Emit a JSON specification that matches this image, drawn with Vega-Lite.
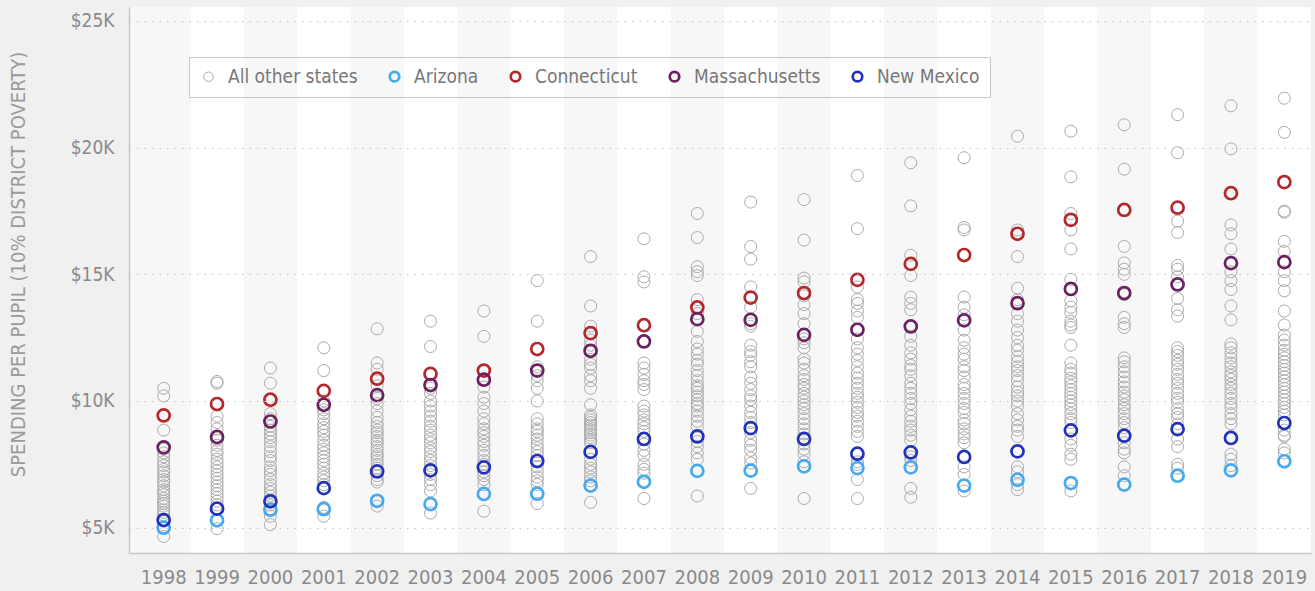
{
"$schema":"https://vega.github.io/schema/vega-lite/v6.json",
"width":1182,"height":546,
"autosize":{"type":"none"},
"padding":{"left":129,"top":7,"right":4,"bottom":38},
"background":"#f0f0f0",
"config":{"view":{"fill":"#f7f7f7","stroke":null},"font":"Liberation Sans Narrow, DejaVu Sans Condensed, sans-serif"},
"datasets":{
"bands":[{"year":1999},{"year":2001},{"year":2003},{"year":2005},{"year":2007},{"year":2009},{"year":2011},{"year":2013},{"year":2015},{"year":2017},{"year":2019}],
"pts":[
{"year":1998,"state":"All other states","usd":10500},{"year":1998,"state":"All other states","usd":10200},{"year":1998,"state":"All other states","usd":8850},{"year":1998,"state":"All other states","usd":8100},{"year":1998,"state":"All other states","usd":7950},{"year":1998,"state":"All other states","usd":7800},{"year":1998,"state":"All other states","usd":7600},{"year":1998,"state":"All other states","usd":7450},{"year":1998,"state":"All other states","usd":7300},{"year":1998,"state":"All other states","usd":7200},{"year":1998,"state":"All other states","usd":7050},{"year":1998,"state":"All other states","usd":6900},{"year":1998,"state":"All other states","usd":6800},{"year":1998,"state":"All other states","usd":6650},{"year":1998,"state":"All other states","usd":6500},{"year":1998,"state":"All other states","usd":6400},{"year":1998,"state":"All other states","usd":6300},{"year":1998,"state":"All other states","usd":6150},{"year":1998,"state":"All other states","usd":6050},{"year":1998,"state":"All other states","usd":5950},{"year":1998,"state":"All other states","usd":5850},{"year":1998,"state":"All other states","usd":5700},{"year":1998,"state":"All other states","usd":5600},{"year":1998,"state":"All other states","usd":5500},{"year":1998,"state":"All other states","usd":4650},
{"year":1999,"state":"All other states","usd":10770},{"year":1999,"state":"All other states","usd":10700},{"year":1999,"state":"All other states","usd":9400},{"year":1999,"state":"All other states","usd":9150},{"year":1999,"state":"All other states","usd":8900},{"year":1999,"state":"All other states","usd":8450},{"year":1999,"state":"All other states","usd":8250},{"year":1999,"state":"All other states","usd":8050},{"year":1999,"state":"All other states","usd":7900},{"year":1999,"state":"All other states","usd":7700},{"year":1999,"state":"All other states","usd":7550},{"year":1999,"state":"All other states","usd":7400},{"year":1999,"state":"All other states","usd":7250},{"year":1999,"state":"All other states","usd":7100},{"year":1999,"state":"All other states","usd":6950},{"year":1999,"state":"All other states","usd":6800},{"year":1999,"state":"All other states","usd":6650},{"year":1999,"state":"All other states","usd":6500},{"year":1999,"state":"All other states","usd":6350},{"year":1999,"state":"All other states","usd":6200},{"year":1999,"state":"All other states","usd":6050},{"year":1999,"state":"All other states","usd":5900},{"year":1999,"state":"All other states","usd":4960},
{"year":2000,"state":"All other states","usd":11300},{"year":2000,"state":"All other states","usd":10700},{"year":2000,"state":"All other states","usd":9500},{"year":2000,"state":"All other states","usd":9300},{"year":2000,"state":"All other states","usd":9000},{"year":2000,"state":"All other states","usd":8850},{"year":2000,"state":"All other states","usd":8700},{"year":2000,"state":"All other states","usd":8550},{"year":2000,"state":"All other states","usd":8400},{"year":2000,"state":"All other states","usd":8200},{"year":2000,"state":"All other states","usd":8000},{"year":2000,"state":"All other states","usd":7800},{"year":2000,"state":"All other states","usd":7650},{"year":2000,"state":"All other states","usd":7400},{"year":2000,"state":"All other states","usd":7250},{"year":2000,"state":"All other states","usd":7100},{"year":2000,"state":"All other states","usd":6900},{"year":2000,"state":"All other states","usd":6700},{"year":2000,"state":"All other states","usd":6550},{"year":2000,"state":"All other states","usd":6400},{"year":2000,"state":"All other states","usd":6250},{"year":2000,"state":"All other states","usd":6100},{"year":2000,"state":"All other states","usd":5900},{"year":2000,"state":"All other states","usd":5450},{"year":2000,"state":"All other states","usd":5120},
{"year":2001,"state":"All other states","usd":12100},{"year":2001,"state":"All other states","usd":11200},{"year":2001,"state":"All other states","usd":10000},{"year":2001,"state":"All other states","usd":9650},{"year":2001,"state":"All other states","usd":9500},{"year":2001,"state":"All other states","usd":9300},{"year":2001,"state":"All other states","usd":9100},{"year":2001,"state":"All other states","usd":8950},{"year":2001,"state":"All other states","usd":8800},{"year":2001,"state":"All other states","usd":8650},{"year":2001,"state":"All other states","usd":8450},{"year":2001,"state":"All other states","usd":8250},{"year":2001,"state":"All other states","usd":8100},{"year":2001,"state":"All other states","usd":7950},{"year":2001,"state":"All other states","usd":7800},{"year":2001,"state":"All other states","usd":7650},{"year":2001,"state":"All other states","usd":7500},{"year":2001,"state":"All other states","usd":7350},{"year":2001,"state":"All other states","usd":7150},{"year":2001,"state":"All other states","usd":7000},{"year":2001,"state":"All other states","usd":6850},{"year":2001,"state":"All other states","usd":6700},{"year":2001,"state":"All other states","usd":5800},{"year":2001,"state":"All other states","usd":5450},
{"year":2002,"state":"All other states","usd":12850},{"year":2002,"state":"All other states","usd":11500},{"year":2002,"state":"All other states","usd":11250},{"year":2002,"state":"All other states","usd":10600},{"year":2002,"state":"All other states","usd":10100},{"year":2002,"state":"All other states","usd":9900},{"year":2002,"state":"All other states","usd":9600},{"year":2002,"state":"All other states","usd":9350},{"year":2002,"state":"All other states","usd":9150},{"year":2002,"state":"All other states","usd":9000},{"year":2002,"state":"All other states","usd":8850},{"year":2002,"state":"All other states","usd":8750},{"year":2002,"state":"All other states","usd":8600},{"year":2002,"state":"All other states","usd":8450},{"year":2002,"state":"All other states","usd":8350},{"year":2002,"state":"All other states","usd":8200},{"year":2002,"state":"All other states","usd":8050},{"year":2002,"state":"All other states","usd":7900},{"year":2002,"state":"All other states","usd":7800},{"year":2002,"state":"All other states","usd":7650},{"year":2002,"state":"All other states","usd":7500},{"year":2002,"state":"All other states","usd":7350},{"year":2002,"state":"All other states","usd":7050},{"year":2002,"state":"All other states","usd":6900},{"year":2002,"state":"All other states","usd":6800},{"year":2002,"state":"All other states","usd":5850},
{"year":2003,"state":"All other states","usd":13150},{"year":2003,"state":"All other states","usd":12150},{"year":2003,"state":"All other states","usd":10500},{"year":2003,"state":"All other states","usd":10300},{"year":2003,"state":"All other states","usd":10000},{"year":2003,"state":"All other states","usd":9800},{"year":2003,"state":"All other states","usd":9600},{"year":2003,"state":"All other states","usd":9400},{"year":2003,"state":"All other states","usd":9200},{"year":2003,"state":"All other states","usd":9000},{"year":2003,"state":"All other states","usd":8850},{"year":2003,"state":"All other states","usd":8650},{"year":2003,"state":"All other states","usd":8500},{"year":2003,"state":"All other states","usd":8350},{"year":2003,"state":"All other states","usd":8150},{"year":2003,"state":"All other states","usd":8000},{"year":2003,"state":"All other states","usd":7800},{"year":2003,"state":"All other states","usd":7650},{"year":2003,"state":"All other states","usd":7450},{"year":2003,"state":"All other states","usd":7100},{"year":2003,"state":"All other states","usd":6900},{"year":2003,"state":"All other states","usd":6700},{"year":2003,"state":"All other states","usd":6450},{"year":2003,"state":"All other states","usd":5580},
{"year":2004,"state":"All other states","usd":13550},{"year":2004,"state":"All other states","usd":12550},{"year":2004,"state":"All other states","usd":10850},{"year":2004,"state":"All other states","usd":10550},{"year":2004,"state":"All other states","usd":10150},{"year":2004,"state":"All other states","usd":9900},{"year":2004,"state":"All other states","usd":9600},{"year":2004,"state":"All other states","usd":9300},{"year":2004,"state":"All other states","usd":9100},{"year":2004,"state":"All other states","usd":8900},{"year":2004,"state":"All other states","usd":8750},{"year":2004,"state":"All other states","usd":8600},{"year":2004,"state":"All other states","usd":8400},{"year":2004,"state":"All other states","usd":8250},{"year":2004,"state":"All other states","usd":8050},{"year":2004,"state":"All other states","usd":7850},{"year":2004,"state":"All other states","usd":7650},{"year":2004,"state":"All other states","usd":7500},{"year":2004,"state":"All other states","usd":7200},{"year":2004,"state":"All other states","usd":7050},{"year":2004,"state":"All other states","usd":6900},{"year":2004,"state":"All other states","usd":6700},{"year":2004,"state":"All other states","usd":5650},
{"year":2005,"state":"All other states","usd":14750},{"year":2005,"state":"All other states","usd":13150},{"year":2005,"state":"All other states","usd":11350},{"year":2005,"state":"All other states","usd":11000},{"year":2005,"state":"All other states","usd":10800},{"year":2005,"state":"All other states","usd":10500},{"year":2005,"state":"All other states","usd":10000},{"year":2005,"state":"All other states","usd":9300},{"year":2005,"state":"All other states","usd":9100},{"year":2005,"state":"All other states","usd":8900},{"year":2005,"state":"All other states","usd":8800},{"year":2005,"state":"All other states","usd":8650},{"year":2005,"state":"All other states","usd":8500},{"year":2005,"state":"All other states","usd":8300},{"year":2005,"state":"All other states","usd":8150},{"year":2005,"state":"All other states","usd":8000},{"year":2005,"state":"All other states","usd":7850},{"year":2005,"state":"All other states","usd":7400},{"year":2005,"state":"All other states","usd":7200},{"year":2005,"state":"All other states","usd":7000},{"year":2005,"state":"All other states","usd":6850},{"year":2005,"state":"All other states","usd":6700},{"year":2005,"state":"All other states","usd":5950},
{"year":2006,"state":"All other states","usd":15700},{"year":2006,"state":"All other states","usd":13750},{"year":2006,"state":"All other states","usd":12950},{"year":2006,"state":"All other states","usd":12400},{"year":2006,"state":"All other states","usd":12200},{"year":2006,"state":"All other states","usd":11650},{"year":2006,"state":"All other states","usd":11450},{"year":2006,"state":"All other states","usd":11300},{"year":2006,"state":"All other states","usd":11000},{"year":2006,"state":"All other states","usd":10800},{"year":2006,"state":"All other states","usd":10500},{"year":2006,"state":"All other states","usd":9850},{"year":2006,"state":"All other states","usd":9450},{"year":2006,"state":"All other states","usd":9350},{"year":2006,"state":"All other states","usd":9250},{"year":2006,"state":"All other states","usd":9150},{"year":2006,"state":"All other states","usd":9050},{"year":2006,"state":"All other states","usd":8950},{"year":2006,"state":"All other states","usd":8850},{"year":2006,"state":"All other states","usd":8750},{"year":2006,"state":"All other states","usd":8650},{"year":2006,"state":"All other states","usd":8550},{"year":2006,"state":"All other states","usd":8450},{"year":2006,"state":"All other states","usd":8350},{"year":2006,"state":"All other states","usd":7700},{"year":2006,"state":"All other states","usd":7500},{"year":2006,"state":"All other states","usd":7350},{"year":2006,"state":"All other states","usd":7200},{"year":2006,"state":"All other states","usd":7000},{"year":2006,"state":"All other states","usd":6850},{"year":2006,"state":"All other states","usd":6000},
{"year":2007,"state":"All other states","usd":16400},{"year":2007,"state":"All other states","usd":14900},{"year":2007,"state":"All other states","usd":14700},{"year":2007,"state":"All other states","usd":11500},{"year":2007,"state":"All other states","usd":11300},{"year":2007,"state":"All other states","usd":11050},{"year":2007,"state":"All other states","usd":10800},{"year":2007,"state":"All other states","usd":10650},{"year":2007,"state":"All other states","usd":10450},{"year":2007,"state":"All other states","usd":9800},{"year":2007,"state":"All other states","usd":9600},{"year":2007,"state":"All other states","usd":9450},{"year":2007,"state":"All other states","usd":9250},{"year":2007,"state":"All other states","usd":9100},{"year":2007,"state":"All other states","usd":8950},{"year":2007,"state":"All other states","usd":8800},{"year":2007,"state":"All other states","usd":8300},{"year":2007,"state":"All other states","usd":8050},{"year":2007,"state":"All other states","usd":7850},{"year":2007,"state":"All other states","usd":7500},{"year":2007,"state":"All other states","usd":7300},{"year":2007,"state":"All other states","usd":7150},{"year":2007,"state":"All other states","usd":6150},
{"year":2008,"state":"All other states","usd":17400},{"year":2008,"state":"All other states","usd":16450},{"year":2008,"state":"All other states","usd":15300},{"year":2008,"state":"All other states","usd":15100},{"year":2008,"state":"All other states","usd":14950},{"year":2008,"state":"All other states","usd":14000},{"year":2008,"state":"All other states","usd":13450},{"year":2008,"state":"All other states","usd":12750},{"year":2008,"state":"All other states","usd":12350},{"year":2008,"state":"All other states","usd":12050},{"year":2008,"state":"All other states","usd":11850},{"year":2008,"state":"All other states","usd":11600},{"year":2008,"state":"All other states","usd":11450},{"year":2008,"state":"All other states","usd":11200},{"year":2008,"state":"All other states","usd":11000},{"year":2008,"state":"All other states","usd":10800},{"year":2008,"state":"All other states","usd":10600},{"year":2008,"state":"All other states","usd":10500},{"year":2008,"state":"All other states","usd":10350},{"year":2008,"state":"All other states","usd":10200},{"year":2008,"state":"All other states","usd":10050},{"year":2008,"state":"All other states","usd":9900},{"year":2008,"state":"All other states","usd":9800},{"year":2008,"state":"All other states","usd":9600},{"year":2008,"state":"All other states","usd":9400},{"year":2008,"state":"All other states","usd":9200},{"year":2008,"state":"All other states","usd":9000},{"year":2008,"state":"All other states","usd":8400},{"year":2008,"state":"All other states","usd":8200},{"year":2008,"state":"All other states","usd":7950},{"year":2008,"state":"All other states","usd":7700},{"year":2008,"state":"All other states","usd":6250},
{"year":2009,"state":"All other states","usd":17850},{"year":2009,"state":"All other states","usd":16100},{"year":2009,"state":"All other states","usd":15600},{"year":2009,"state":"All other states","usd":14500},{"year":2009,"state":"All other states","usd":13700},{"year":2009,"state":"All other states","usd":13050},{"year":2009,"state":"All other states","usd":12950},{"year":2009,"state":"All other states","usd":12200},{"year":2009,"state":"All other states","usd":11950},{"year":2009,"state":"All other states","usd":11800},{"year":2009,"state":"All other states","usd":11550},{"year":2009,"state":"All other states","usd":11350},{"year":2009,"state":"All other states","usd":10950},{"year":2009,"state":"All other states","usd":10700},{"year":2009,"state":"All other states","usd":10450},{"year":2009,"state":"All other states","usd":10200},{"year":2009,"state":"All other states","usd":10050},{"year":2009,"state":"All other states","usd":9800},{"year":2009,"state":"All other states","usd":9550},{"year":2009,"state":"All other states","usd":9350},{"year":2009,"state":"All other states","usd":9150},{"year":2009,"state":"All other states","usd":8750},{"year":2009,"state":"All other states","usd":8450},{"year":2009,"state":"All other states","usd":8250},{"year":2009,"state":"All other states","usd":8050},{"year":2009,"state":"All other states","usd":7750},{"year":2009,"state":"All other states","usd":7550},{"year":2009,"state":"All other states","usd":6550},
{"year":2010,"state":"All other states","usd":17950},{"year":2010,"state":"All other states","usd":16350},{"year":2010,"state":"All other states","usd":14850},{"year":2010,"state":"All other states","usd":14700},{"year":2010,"state":"All other states","usd":14150},{"year":2010,"state":"All other states","usd":13800},{"year":2010,"state":"All other states","usd":13450},{"year":2010,"state":"All other states","usd":13050},{"year":2010,"state":"All other states","usd":12450},{"year":2010,"state":"All other states","usd":12300},{"year":2010,"state":"All other states","usd":12100},{"year":2010,"state":"All other states","usd":11650},{"year":2010,"state":"All other states","usd":11500},{"year":2010,"state":"All other states","usd":11250},{"year":2010,"state":"All other states","usd":11000},{"year":2010,"state":"All other states","usd":10850},{"year":2010,"state":"All other states","usd":10650},{"year":2010,"state":"All other states","usd":10500},{"year":2010,"state":"All other states","usd":10300},{"year":2010,"state":"All other states","usd":10150},{"year":2010,"state":"All other states","usd":10000},{"year":2010,"state":"All other states","usd":9850},{"year":2010,"state":"All other states","usd":9700},{"year":2010,"state":"All other states","usd":9500},{"year":2010,"state":"All other states","usd":9300},{"year":2010,"state":"All other states","usd":9100},{"year":2010,"state":"All other states","usd":8900},{"year":2010,"state":"All other states","usd":8700},{"year":2010,"state":"All other states","usd":8300},{"year":2010,"state":"All other states","usd":8100},{"year":2010,"state":"All other states","usd":7900},{"year":2010,"state":"All other states","usd":7600},{"year":2010,"state":"All other states","usd":6150},
{"year":2011,"state":"All other states","usd":18900},{"year":2011,"state":"All other states","usd":16800},{"year":2011,"state":"All other states","usd":14500},{"year":2011,"state":"All other states","usd":14000},{"year":2011,"state":"All other states","usd":13850},{"year":2011,"state":"All other states","usd":13550},{"year":2011,"state":"All other states","usd":13300},{"year":2011,"state":"All other states","usd":12450},{"year":2011,"state":"All other states","usd":12100},{"year":2011,"state":"All other states","usd":11850},{"year":2011,"state":"All other states","usd":11600},{"year":2011,"state":"All other states","usd":11350},{"year":2011,"state":"All other states","usd":11100},{"year":2011,"state":"All other states","usd":10900},{"year":2011,"state":"All other states","usd":10700},{"year":2011,"state":"All other states","usd":10500},{"year":2011,"state":"All other states","usd":10300},{"year":2011,"state":"All other states","usd":10150},{"year":2011,"state":"All other states","usd":9950},{"year":2011,"state":"All other states","usd":9750},{"year":2011,"state":"All other states","usd":9550},{"year":2011,"state":"All other states","usd":9400},{"year":2011,"state":"All other states","usd":9200},{"year":2011,"state":"All other states","usd":9000},{"year":2011,"state":"All other states","usd":8800},{"year":2011,"state":"All other states","usd":8600},{"year":2011,"state":"All other states","usd":7600},{"year":2011,"state":"All other states","usd":7500},{"year":2011,"state":"All other states","usd":6900},{"year":2011,"state":"All other states","usd":6150},
{"year":2012,"state":"All other states","usd":19400},{"year":2012,"state":"All other states","usd":17700},{"year":2012,"state":"All other states","usd":15750},{"year":2012,"state":"All other states","usd":14950},{"year":2012,"state":"All other states","usd":14100},{"year":2012,"state":"All other states","usd":13850},{"year":2012,"state":"All other states","usd":13600},{"year":2012,"state":"All other states","usd":12550},{"year":2012,"state":"All other states","usd":12200},{"year":2012,"state":"All other states","usd":11900},{"year":2012,"state":"All other states","usd":11650},{"year":2012,"state":"All other states","usd":11400},{"year":2012,"state":"All other states","usd":11250},{"year":2012,"state":"All other states","usd":11000},{"year":2012,"state":"All other states","usd":10700},{"year":2012,"state":"All other states","usd":10500},{"year":2012,"state":"All other states","usd":10300},{"year":2012,"state":"All other states","usd":10100},{"year":2012,"state":"All other states","usd":9900},{"year":2012,"state":"All other states","usd":9650},{"year":2012,"state":"All other states","usd":9400},{"year":2012,"state":"All other states","usd":9200},{"year":2012,"state":"All other states","usd":9000},{"year":2012,"state":"All other states","usd":8850},{"year":2012,"state":"All other states","usd":8650},{"year":2012,"state":"All other states","usd":8450},{"year":2012,"state":"All other states","usd":7800},{"year":2012,"state":"All other states","usd":7650},{"year":2012,"state":"All other states","usd":6550},{"year":2012,"state":"All other states","usd":6200},
{"year":2013,"state":"All other states","usd":19600},{"year":2013,"state":"All other states","usd":16850},{"year":2013,"state":"All other states","usd":16750},{"year":2013,"state":"All other states","usd":14100},{"year":2013,"state":"All other states","usd":13700},{"year":2013,"state":"All other states","usd":13400},{"year":2013,"state":"All other states","usd":12800},{"year":2013,"state":"All other states","usd":12400},{"year":2013,"state":"All other states","usd":12100},{"year":2013,"state":"All other states","usd":11850},{"year":2013,"state":"All other states","usd":11650},{"year":2013,"state":"All other states","usd":11350},{"year":2013,"state":"All other states","usd":11200},{"year":2013,"state":"All other states","usd":10950},{"year":2013,"state":"All other states","usd":10650},{"year":2013,"state":"All other states","usd":10500},{"year":2013,"state":"All other states","usd":10300},{"year":2013,"state":"All other states","usd":10100},{"year":2013,"state":"All other states","usd":9900},{"year":2013,"state":"All other states","usd":9700},{"year":2013,"state":"All other states","usd":9550},{"year":2013,"state":"All other states","usd":9250},{"year":2013,"state":"All other states","usd":9100},{"year":2013,"state":"All other states","usd":8900},{"year":2013,"state":"All other states","usd":8700},{"year":2013,"state":"All other states","usd":8550},{"year":2013,"state":"All other states","usd":8350},{"year":2013,"state":"All other states","usd":7400},{"year":2013,"state":"All other states","usd":7100},{"year":2013,"state":"All other states","usd":6450},
{"year":2014,"state":"All other states","usd":20450},{"year":2014,"state":"All other states","usd":16750},{"year":2014,"state":"All other states","usd":15700},{"year":2014,"state":"All other states","usd":14450},{"year":2014,"state":"All other states","usd":14000},{"year":2014,"state":"All other states","usd":13450},{"year":2014,"state":"All other states","usd":13150},{"year":2014,"state":"All other states","usd":12800},{"year":2014,"state":"All other states","usd":12500},{"year":2014,"state":"All other states","usd":12200},{"year":2014,"state":"All other states","usd":12000},{"year":2014,"state":"All other states","usd":11750},{"year":2014,"state":"All other states","usd":11550},{"year":2014,"state":"All other states","usd":11350},{"year":2014,"state":"All other states","usd":11200},{"year":2014,"state":"All other states","usd":11000},{"year":2014,"state":"All other states","usd":10800},{"year":2014,"state":"All other states","usd":10550},{"year":2014,"state":"All other states","usd":10350},{"year":2014,"state":"All other states","usd":10200},{"year":2014,"state":"All other states","usd":10000},{"year":2014,"state":"All other states","usd":9800},{"year":2014,"state":"All other states","usd":9500},{"year":2014,"state":"All other states","usd":9250},{"year":2014,"state":"All other states","usd":9000},{"year":2014,"state":"All other states","usd":8850},{"year":2014,"state":"All other states","usd":8600},{"year":2014,"state":"All other states","usd":7400},{"year":2014,"state":"All other states","usd":7200},{"year":2014,"state":"All other states","usd":6700},{"year":2014,"state":"All other states","usd":6500},
{"year":2015,"state":"All other states","usd":20650},{"year":2015,"state":"All other states","usd":18850},{"year":2015,"state":"All other states","usd":17400},{"year":2015,"state":"All other states","usd":16750},{"year":2015,"state":"All other states","usd":16000},{"year":2015,"state":"All other states","usd":14800},{"year":2015,"state":"All other states","usd":13950},{"year":2015,"state":"All other states","usd":13700},{"year":2015,"state":"All other states","usd":13500},{"year":2015,"state":"All other states","usd":13150},{"year":2015,"state":"All other states","usd":13000},{"year":2015,"state":"All other states","usd":12900},{"year":2015,"state":"All other states","usd":12200},{"year":2015,"state":"All other states","usd":11500},{"year":2015,"state":"All other states","usd":11250},{"year":2015,"state":"All other states","usd":11100},{"year":2015,"state":"All other states","usd":10900},{"year":2015,"state":"All other states","usd":10750},{"year":2015,"state":"All other states","usd":10600},{"year":2015,"state":"All other states","usd":10450},{"year":2015,"state":"All other states","usd":10300},{"year":2015,"state":"All other states","usd":10150},{"year":2015,"state":"All other states","usd":10000},{"year":2015,"state":"All other states","usd":9850},{"year":2015,"state":"All other states","usd":9700},{"year":2015,"state":"All other states","usd":9500},{"year":2015,"state":"All other states","usd":9300},{"year":2015,"state":"All other states","usd":9150},{"year":2015,"state":"All other states","usd":8500},{"year":2015,"state":"All other states","usd":8250},{"year":2015,"state":"All other states","usd":7900},{"year":2015,"state":"All other states","usd":7700},{"year":2015,"state":"All other states","usd":6450},
{"year":2016,"state":"All other states","usd":20900},{"year":2016,"state":"All other states","usd":19150},{"year":2016,"state":"All other states","usd":16100},{"year":2016,"state":"All other states","usd":15450},{"year":2016,"state":"All other states","usd":15200},{"year":2016,"state":"All other states","usd":15000},{"year":2016,"state":"All other states","usd":14200},{"year":2016,"state":"All other states","usd":13300},{"year":2016,"state":"All other states","usd":13050},{"year":2016,"state":"All other states","usd":12900},{"year":2016,"state":"All other states","usd":11700},{"year":2016,"state":"All other states","usd":11550},{"year":2016,"state":"All other states","usd":11350},{"year":2016,"state":"All other states","usd":11150},{"year":2016,"state":"All other states","usd":10950},{"year":2016,"state":"All other states","usd":10750},{"year":2016,"state":"All other states","usd":10550},{"year":2016,"state":"All other states","usd":10350},{"year":2016,"state":"All other states","usd":10200},{"year":2016,"state":"All other states","usd":10050},{"year":2016,"state":"All other states","usd":9850},{"year":2016,"state":"All other states","usd":9700},{"year":2016,"state":"All other states","usd":9500},{"year":2016,"state":"All other states","usd":9300},{"year":2016,"state":"All other states","usd":9150},{"year":2016,"state":"All other states","usd":8950},{"year":2016,"state":"All other states","usd":8350},{"year":2016,"state":"All other states","usd":8100},{"year":2016,"state":"All other states","usd":7950},{"year":2016,"state":"All other states","usd":7400},{"year":2016,"state":"All other states","usd":7050},
{"year":2017,"state":"All other states","usd":21300},{"year":2017,"state":"All other states","usd":19800},{"year":2017,"state":"All other states","usd":17100},{"year":2017,"state":"All other states","usd":16650},{"year":2017,"state":"All other states","usd":15350},{"year":2017,"state":"All other states","usd":15200},{"year":2017,"state":"All other states","usd":14900},{"year":2017,"state":"All other states","usd":14050},{"year":2017,"state":"All other states","usd":13600},{"year":2017,"state":"All other states","usd":13350},{"year":2017,"state":"All other states","usd":12100},{"year":2017,"state":"All other states","usd":11950},{"year":2017,"state":"All other states","usd":11800},{"year":2017,"state":"All other states","usd":11600},{"year":2017,"state":"All other states","usd":11450},{"year":2017,"state":"All other states","usd":11250},{"year":2017,"state":"All other states","usd":11050},{"year":2017,"state":"All other states","usd":10850},{"year":2017,"state":"All other states","usd":10700},{"year":2017,"state":"All other states","usd":10500},{"year":2017,"state":"All other states","usd":10300},{"year":2017,"state":"All other states","usd":10100},{"year":2017,"state":"All other states","usd":9950},{"year":2017,"state":"All other states","usd":9700},{"year":2017,"state":"All other states","usd":9500},{"year":2017,"state":"All other states","usd":9350},{"year":2017,"state":"All other states","usd":9100},{"year":2017,"state":"All other states","usd":8500},{"year":2017,"state":"All other states","usd":8200},{"year":2017,"state":"All other states","usd":7500},{"year":2017,"state":"All other states","usd":7350},
{"year":2018,"state":"All other states","usd":21650},{"year":2018,"state":"All other states","usd":19950},{"year":2018,"state":"All other states","usd":16950},{"year":2018,"state":"All other states","usd":16600},{"year":2018,"state":"All other states","usd":16000},{"year":2018,"state":"All other states","usd":15100},{"year":2018,"state":"All other states","usd":14750},{"year":2018,"state":"All other states","usd":14400},{"year":2018,"state":"All other states","usd":13750},{"year":2018,"state":"All other states","usd":13200},{"year":2018,"state":"All other states","usd":12250},{"year":2018,"state":"All other states","usd":12100},{"year":2018,"state":"All other states","usd":11900},{"year":2018,"state":"All other states","usd":11700},{"year":2018,"state":"All other states","usd":11500},{"year":2018,"state":"All other states","usd":11350},{"year":2018,"state":"All other states","usd":11150},{"year":2018,"state":"All other states","usd":11000},{"year":2018,"state":"All other states","usd":10850},{"year":2018,"state":"All other states","usd":10650},{"year":2018,"state":"All other states","usd":10500},{"year":2018,"state":"All other states","usd":10300},{"year":2018,"state":"All other states","usd":10100},{"year":2018,"state":"All other states","usd":9900},{"year":2018,"state":"All other states","usd":9750},{"year":2018,"state":"All other states","usd":9500},{"year":2018,"state":"All other states","usd":9300},{"year":2018,"state":"All other states","usd":9100},{"year":2018,"state":"All other states","usd":7900},{"year":2018,"state":"All other states","usd":7700},{"year":2018,"state":"All other states","usd":7450},
{"year":2019,"state":"All other states","usd":21950},{"year":2019,"state":"All other states","usd":20600},{"year":2019,"state":"All other states","usd":17500},{"year":2019,"state":"All other states","usd":17450},{"year":2019,"state":"All other states","usd":16300},{"year":2019,"state":"All other states","usd":15900},{"year":2019,"state":"All other states","usd":15100},{"year":2019,"state":"All other states","usd":14750},{"year":2019,"state":"All other states","usd":14350},{"year":2019,"state":"All other states","usd":13550},{"year":2019,"state":"All other states","usd":13000},{"year":2019,"state":"All other states","usd":12600},{"year":2019,"state":"All other states","usd":12400},{"year":2019,"state":"All other states","usd":12200},{"year":2019,"state":"All other states","usd":12000},{"year":2019,"state":"All other states","usd":11850},{"year":2019,"state":"All other states","usd":11700},{"year":2019,"state":"All other states","usd":11550},{"year":2019,"state":"All other states","usd":11400},{"year":2019,"state":"All other states","usd":11250},{"year":2019,"state":"All other states","usd":11100},{"year":2019,"state":"All other states","usd":10950},{"year":2019,"state":"All other states","usd":10800},{"year":2019,"state":"All other states","usd":10650},{"year":2019,"state":"All other states","usd":10500},{"year":2019,"state":"All other states","usd":10350},{"year":2019,"state":"All other states","usd":10200},{"year":2019,"state":"All other states","usd":10050},{"year":2019,"state":"All other states","usd":9900},{"year":2019,"state":"All other states","usd":9750},{"year":2019,"state":"All other states","usd":9600},{"year":2019,"state":"All other states","usd":9450},{"year":2019,"state":"All other states","usd":8850},{"year":2019,"state":"All other states","usd":8650},{"year":2019,"state":"All other states","usd":8600},{"year":2019,"state":"All other states","usd":8100},{"year":2019,"state":"All other states","usd":7950},
{"year":1998,"state":"Arizona","usd":5000},{"year":1998,"state":"Connecticut","usd":9430},{"year":1998,"state":"Massachusetts","usd":8170},{"year":1998,"state":"New Mexico","usd":5300},
{"year":1999,"state":"Arizona","usd":5290},{"year":1999,"state":"Connecticut","usd":9880},{"year":1999,"state":"Massachusetts","usd":8580},{"year":1999,"state":"New Mexico","usd":5750},
{"year":2000,"state":"Arizona","usd":5710},{"year":2000,"state":"Connecticut","usd":10050},{"year":2000,"state":"Massachusetts","usd":9190},{"year":2000,"state":"New Mexico","usd":6040},
{"year":2001,"state":"Arizona","usd":5730},{"year":2001,"state":"Connecticut","usd":10400},{"year":2001,"state":"Massachusetts","usd":9850},{"year":2001,"state":"New Mexico","usd":6560},
{"year":2002,"state":"Arizona","usd":6060},{"year":2002,"state":"Connecticut","usd":10880},{"year":2002,"state":"Massachusetts","usd":10230},{"year":2002,"state":"New Mexico","usd":7220},
{"year":2003,"state":"Arizona","usd":5930},{"year":2003,"state":"Connecticut","usd":11070},{"year":2003,"state":"Massachusetts","usd":10630},{"year":2003,"state":"New Mexico","usd":7260},
{"year":2004,"state":"Arizona","usd":6330},{"year":2004,"state":"Connecticut","usd":11200},{"year":2004,"state":"Massachusetts","usd":10840},{"year":2004,"state":"New Mexico","usd":7380},
{"year":2005,"state":"Arizona","usd":6340},{"year":2005,"state":"Connecticut","usd":12050},{"year":2005,"state":"Massachusetts","usd":11200},{"year":2005,"state":"New Mexico","usd":7630},
{"year":2006,"state":"Arizona","usd":6660},{"year":2006,"state":"Connecticut","usd":12680},{"year":2006,"state":"Massachusetts","usd":11980},{"year":2006,"state":"New Mexico","usd":7990},
{"year":2007,"state":"Arizona","usd":6810},{"year":2007,"state":"Connecticut","usd":12990},{"year":2007,"state":"Massachusetts","usd":12350},{"year":2007,"state":"New Mexico","usd":8500},
{"year":2008,"state":"Arizona","usd":7240},{"year":2008,"state":"Connecticut","usd":13690},{"year":2008,"state":"Massachusetts","usd":13230},{"year":2008,"state":"New Mexico","usd":8600},
{"year":2009,"state":"Arizona","usd":7250},{"year":2009,"state":"Connecticut","usd":14080},{"year":2009,"state":"Massachusetts","usd":13200},{"year":2009,"state":"New Mexico","usd":8930},
{"year":2010,"state":"Arizona","usd":7420},{"year":2010,"state":"Connecticut","usd":14260},{"year":2010,"state":"Massachusetts","usd":12610},{"year":2010,"state":"New Mexico","usd":8500},
{"year":2011,"state":"Arizona","usd":7350},{"year":2011,"state":"Connecticut","usd":14780},{"year":2011,"state":"Massachusetts","usd":12810},{"year":2011,"state":"New Mexico","usd":7920},
{"year":2012,"state":"Arizona","usd":7380},{"year":2012,"state":"Connecticut","usd":15410},{"year":2012,"state":"Massachusetts","usd":12940},{"year":2012,"state":"New Mexico","usd":7970},
{"year":2013,"state":"Arizona","usd":6660},{"year":2013,"state":"Connecticut","usd":15760},{"year":2013,"state":"Massachusetts","usd":13180},{"year":2013,"state":"New Mexico","usd":7790},
{"year":2014,"state":"Arizona","usd":6890},{"year":2014,"state":"Connecticut","usd":16600},{"year":2014,"state":"Massachusetts","usd":13860},{"year":2014,"state":"New Mexico","usd":8010},
{"year":2015,"state":"Arizona","usd":6760},{"year":2015,"state":"Connecticut","usd":17150},{"year":2015,"state":"Massachusetts","usd":14420},{"year":2015,"state":"New Mexico","usd":8840},
{"year":2016,"state":"Arizona","usd":6700},{"year":2016,"state":"Connecticut","usd":17540},{"year":2016,"state":"Massachusetts","usd":14260},{"year":2016,"state":"New Mexico","usd":8630},
{"year":2017,"state":"Arizona","usd":7050},{"year":2017,"state":"Connecticut","usd":17630},{"year":2017,"state":"Massachusetts","usd":14600},{"year":2017,"state":"New Mexico","usd":8890},
{"year":2018,"state":"Arizona","usd":7260},{"year":2018,"state":"Connecticut","usd":18200},{"year":2018,"state":"Massachusetts","usd":15440},{"year":2018,"state":"New Mexico","usd":8540},
{"year":2019,"state":"Arizona","usd":7620},{"year":2019,"state":"Connecticut","usd":18640},{"year":2019,"state":"Massachusetts","usd":15480},{"year":2019,"state":"New Mexico","usd":9130}
]},
"encoding":{
"x":{"field":"year","type":"ordinal","title":null,
 "scale":{"type":"band","paddingInner":0,"paddingOuter":0.075,"align":1},
 "axis":{"labelAngle":0,"ticks":false,"grid":false,"domainColor":"#c8c8c8","domainWidth":1.5,"labelFontSize":20,"labelColor":"#8a8a8a","labelPadding":14}}
},
"layer":[
{"data":{"name":"bands"},"mark":{"type":"rect","fill":"#ffffff"},"encoding":{}},
{"data":{"name":"pts"},
 "mark":{"type":"point","shape":"circle","filled":false,"size":145,"opacity":1},
 "encoding":{
  "y":{"field":"usd","type":"quantitative","scale":{"domain":[4000,25550],"nice":false,"zero":false},
   "axis":{"values":[5000,10000,15000,20000,25000],"labelExpr":"'$' + (datum.value/1000) + 'K'","ticks":false,"grid":true,"gridDash":[1.5,6],"gridColor":"#c4c4c4","zindex":1,
    "domainColor":"#c8c8c8","domainWidth":1.5,"labelFontSize":19,"labelColor":"#8a8a8a","labelPadding":15,
    "title":"SPENDING PER PUPIL (10% DISTRICT POVERTY)","titleFontSize":20,"titleFontWeight":"normal","titleColor":"#9a9a9a","titleX":-111,"titleY":257,"titleBaseline":"middle","titleAngle":-90,"titleAlign":"center"}},
  "color":{"field":"state","type":"nominal",
   "scale":{"domain":["All other states","Arizona","Connecticut","Massachusetts","New Mexico"],"range":["#ababab","#47a9ee","#b3282d","#6a2160","#2132b8"]},
   "legend":{"orient":"none","legendX":60,"legendY":50,"direction":"horizontal","title":null,"strokeColor":"#c6c6c6","padding":10,"labelFontSize":19,"labelColor":"#777777","symbolSize":90,"columnPadding":26,"labelOffset":10,"symbolType":"circle",
    "encode":{"legend":{"update":{"strokeDash":{"value":[1,3]}}}}}},
  "strokeWidth":{"field":"state","type":"nominal",
   "scale":{"type":"ordinal","domain":["All other states","Arizona","Connecticut","Massachusetts","New Mexico"],"range":[1,2.7,2.7,2.7,2.7]},
   "legend":{"orient":"none","legendX":60,"legendY":50,"direction":"horizontal","title":null,"strokeColor":"#c6c6c6","padding":10,"labelFontSize":19,"labelColor":"#777777","symbolSize":90,"columnPadding":26,"labelOffset":10,"symbolType":"circle",
    "encode":{"legend":{"update":{"strokeDash":{"value":[1,3]}}}}}}
 }}
]
}
